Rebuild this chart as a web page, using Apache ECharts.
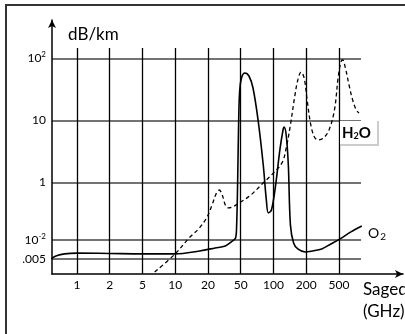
<!DOCTYPE html>
<html><head><meta charset="utf-8">
<script src="https://cdn.jsdelivr.net/npm/echarts@6/dist/echarts.min.js"></script>
<style>html,body{margin:0;padding:0;background:#fff}#c{width:405px;height:334px}</style>
</head><body><div id="c"></div>
<script>
// x tick frequencies (GHz), drawn equally spaced
const freqTicks = [1, 2, 5, 10, 20, 50, 100, 200, 500];
// y tick values (dB/km) and their labels as printed
const yTickValues = [100, 10, 1, 0.117, 0.0573];
const yTickLabels = ['10{sup|2}', '10', '1', '10{sup|-2}', '.005'];

// O2 (solid) attenuation curve
const o2Freq = [0.58,0.65,0.77,1,2,5,10,16.7,24.4,32.5,39.8,43.3,44.6,45.9,47.2,48.6,51.1,54.5,59.5,64.8,72.2,80.5,85.9,89.7,95.7,104.6,114.4,122.3,125.1,130.8,136.8,143,152.9,167.2,195.6,239,308,398,513,696,945];
const o2Atten = [0.058,0.065,0.070,0.072,0.071,0.070,0.070,0.078,0.087,0.094,0.113,0.126,0.205,1.09,10,30.8,49.9,58,51.8,33.2,10,1.9,0.52,0.32,0.357,0.905,3.32,6.97,7.8,5.79,1.9,0.205,0.105,0.084,0.075,0.078,0.084,0.101,0.122,0.158,0.197];

// H2O (dashed) attenuation curve
const h2oFreq = [6.48,10,13.4,16.7,19.6,22.4,25.1,27.4,29.9,32.5,35.5,39.8,50,61.7,77.1,95.7,119.6,130.8,143,156.4,167.2,178.8,191.2,205,227,251,278,324,378,440,487,526,553,597,661,732,809,874];
const h2oAtten = [0.0357,0.070,0.126,0.183,0.275,0.43,0.65,0.75,0.62,0.43,0.385,0.40,0.48,0.62,0.905,1.31,2.05,3.57,8.4,23.8,44.7,60.1,48.1,21.2,8.4,5.38,4.81,5.18,6.97,14.7,48.1,87.2,93.9,69.8,37.1,21.2,14.7,13.1];

// piecewise-log position of a frequency on the equally spaced tick scale
function freqToPos(f) {
  const t = freqTicks, n = t.length;
  let i = 0;
  if (f >= t[n - 1]) i = n - 2;
  else if (f > t[0]) { while (!(f >= t[i] && f < t[i + 1])) i++; }
  return i + Math.log(f / t[i]) / Math.log(t[i + 1] / t[i]);
}
const toPts = (fs, vs) => fs.map((f, i) => [freqToPos(f), Math.log10(vs[i])]);

const FONT = 'Lato';
const xTickPos = freqTicks.map((_, i) => i);
const yTickPos = yTickValues.map(v => Math.log10(v));

const chart = echarts.init(document.getElementById('c'), null, {renderer: 'canvas'});
chart.setOption({
  animation: false,
  backgroundColor: '#fff',
  grid: [
    {left: 52, right: 44, top: 48, bottom: 60},
    {left: 52, right: 2, top: 20, bottom: 60}
  ],
  xAxis: [
    {
      gridIndex: 0, type: 'value', min: -0.76, max: 8.67,
      axisLine: {show: false},
      axisTick: {show: false, customValues: xTickPos},
      axisLabel: {
        customValues: xTickPos, color: '#000', fontSize: 12, fontFamily: FONT, margin: 5,
        formatter: v => String(freqTicks[Math.round(v)])
      },
      splitLine: {show: true, lineStyle: {color: '#000', width: 1.3}}
    },
    {
      gridIndex: 1, type: 'value', min: -0.76, max: 9.95,
      axisLine: {show: true, onZero: false, lineStyle: {color: '#000', width: 1.5}, symbol: ['none', 'arrow'], symbolSize: [6, 8]},
      axisTick: {show: false}, axisLabel: {show: false}, splitLine: {show: false}
    }
  ],
  yAxis: [
    {
      gridIndex: 0, type: 'value', min: -1.48, max: 2.166,
      axisLine: {show: false},
      axisTick: {show: false, customValues: yTickPos},
      axisLabel: {
        customValues: yTickPos, color: '#000', fontSize: 12, fontFamily: FONT, margin: 6,
        formatter: v => {
          const i = yTickPos.findIndex(p => Math.abs(p - v) < 1e-6);
          return i >= 0 ? yTickLabels[i] : '';
        },
        rich: {sup: {fontSize: 8, fontFamily: FONT, color: '#000', padding: [0, 0, 7, 0]}}
      },
      splitLine: {show: true, lineStyle: {color: '#444', width: 1.6}}
    },
    {
      gridIndex: 1, type: 'value', min: 0, max: 1,
      axisLine: {show: true, onZero: false, lineStyle: {color: '#000', width: 1.5}, symbol: ['none', 'arrow'], symbolSize: [6, 8]},
      axisTick: {show: false}, axisLabel: {show: false}, splitLine: {show: false}
    }
  ],
  series: [
    {
      type: 'line', xAxisIndex: 0, yAxisIndex: 0, data: toPts(o2Freq, o2Atten),
      showSymbol: false, smooth: 0.35, silent: true,
      lineStyle: {color: '#000', width: 1.6}, z: 5
    },
    {
      type: 'line', xAxisIndex: 0, yAxisIndex: 0, data: toPts(h2oFreq, h2oAtten),
      showSymbol: false, smooth: 0.35, silent: true,
      lineStyle: {color: '#000', width: 1.3, type: [4, 3]}, z: 5
    }
  ],
  graphic: [
    {type: 'rect', z: 100, shape: {x: 6, y: 5, width: 500, height: 400}, style: {fill: 'none', stroke: '#333', lineWidth: 2}},
    {type: 'text', z: 100, x: 68, y: 35, style: {text: 'dB/km', font: '17px Lato', fill: '#000', verticalAlign: 'middle', textVerticalAlign: 'middle'}},
    {type: 'rect', z: 100, shape: {x: 340, y: 121, width: 38, height: 24}, style: {fill: '#fff'}},
    {type: 'polyline', z: 101, shape: {points: [[378, 121], [378, 145], [340, 145]]}, style: {fill: 'none', stroke: '#ccc', lineWidth: 2}},
    {type: 'text', z: 102, x: 342, y: 133, style: {
      text: '{b|H}{s|2}{b|O}', verticalAlign: 'middle', textVerticalAlign: 'middle',
      rich: {b: {fontSize: 15, fontWeight: 'bold', fontFamily: FONT, fill: '#000', color: '#000'},
             s: {fontSize: 9, fontWeight: 'bold', fontFamily: FONT, fill: '#000', color: '#000', padding: [6, 0, 0, 0]}}
    }},
    {type: 'text', z: 102, x: 368, y: 233, style: {
      text: '{n|O}{s|2}', verticalAlign: 'middle', textVerticalAlign: 'middle',
      rich: {n: {fontSize: 14, fontFamily: FONT, fill: '#000', color: '#000'},
             s: {fontSize: 10, fontFamily: FONT, fill: '#000', color: '#000', padding: [7, 0, 0, 1]}}
    }},
    {type: 'text', z: 100, x: 363, y: 290, style: {text: 'Sagedus', font: '17px Lato', fill: '#000', verticalAlign: 'middle', textVerticalAlign: 'middle'}},
    {type: 'text', z: 100, x: 363, y: 312, style: {text: '(GHz)', font: '17px Lato', fill: '#000', verticalAlign: 'middle', textVerticalAlign: 'middle'}}
  ]
});
</script>
</body></html>
